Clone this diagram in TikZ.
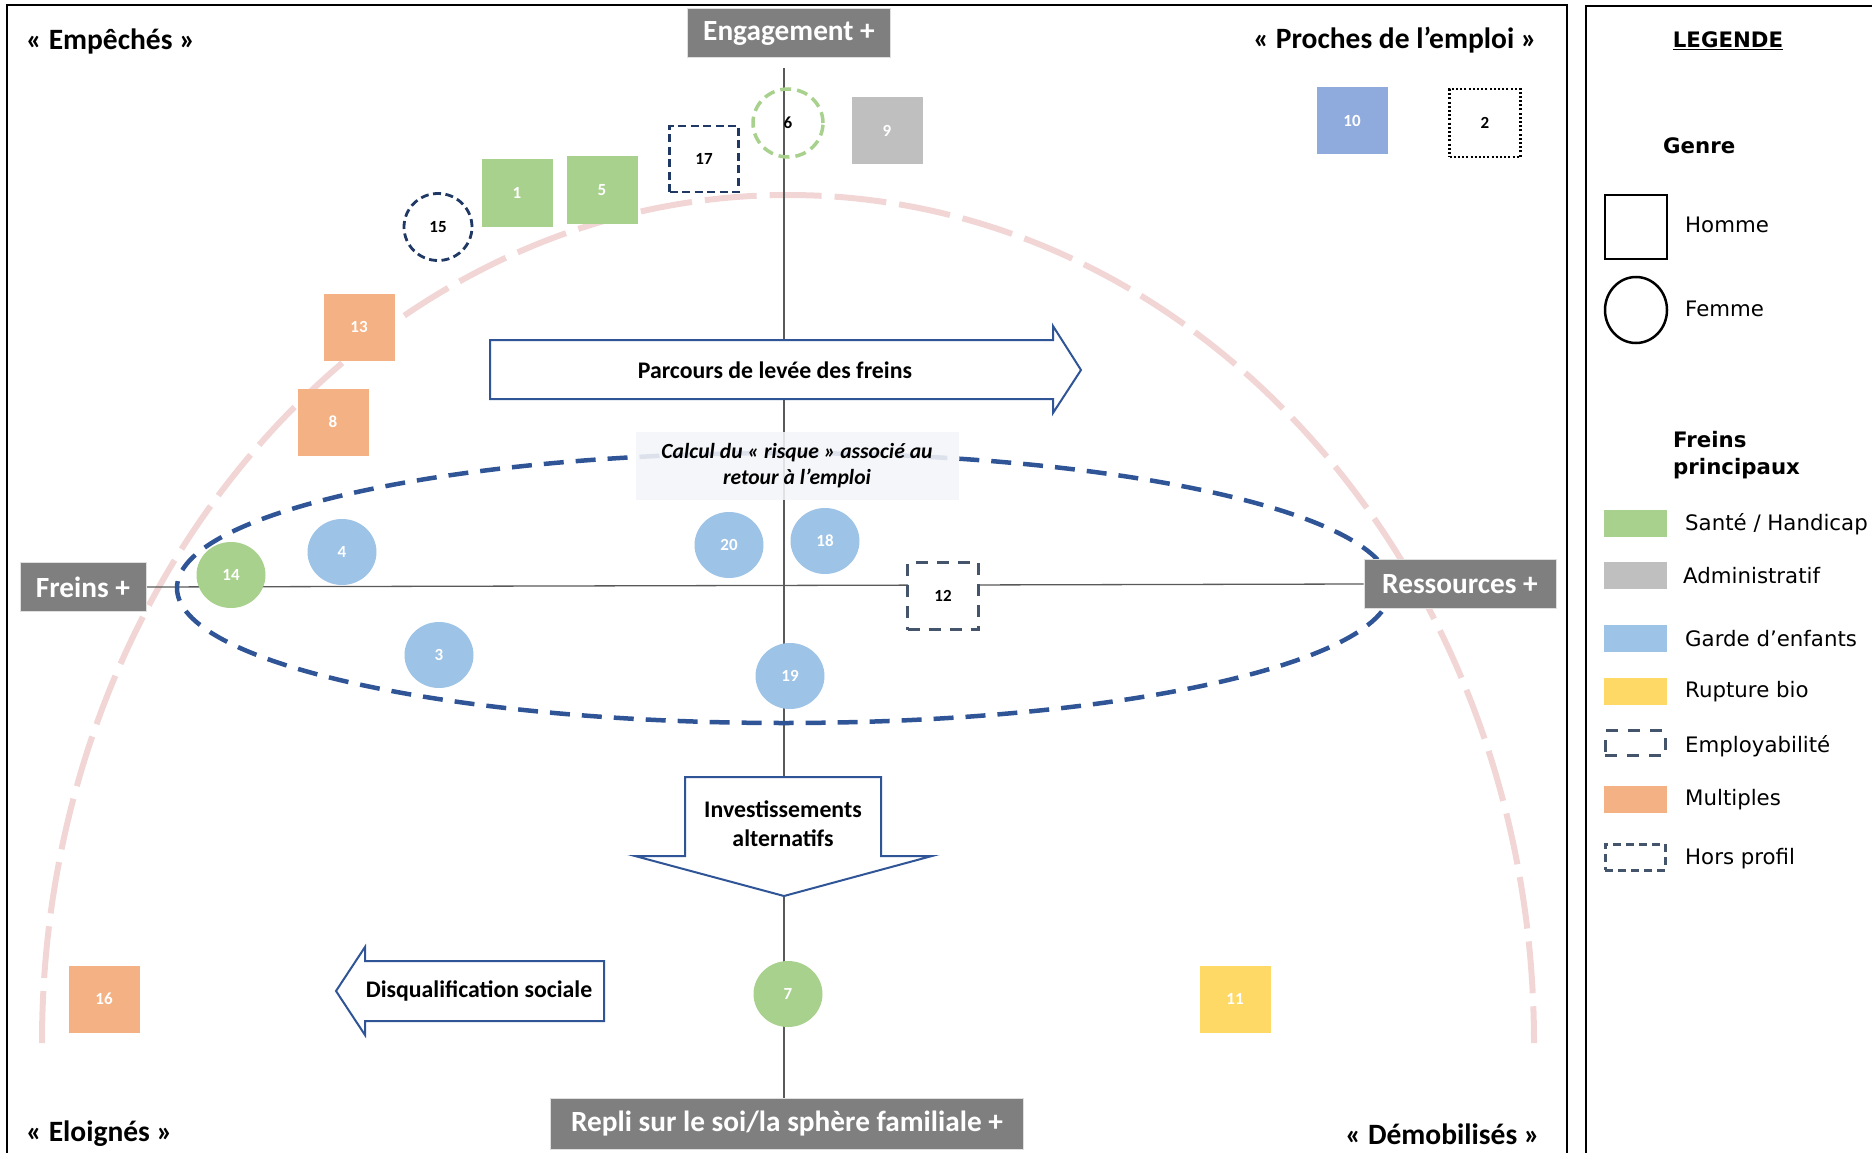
\documentclass[tikz,border=0pt]{standalone}
\usepackage{fontspec}
\setmainfont{Carlito}
\newfontfamily\legfont{DejaVu Sans}
\usetikzlibrary{shapes.geometric,positioning,backgrounds}

\definecolor{boxgray}{RGB}{127,127,127}
\definecolor{axisgray}{RGB}{89,89,89}
\definecolor{arcpink}{RGB}{242,214,214}
\definecolor{ellblue}{RGB}{47,85,151}
\definecolor{navy}{RGB}{31,56,100}
\definecolor{slate}{RGB}{68,84,106}
\definecolor{santeC}{RGB}{169,209,142}
\definecolor{adminC}{RGB}{191,191,191}
\definecolor{gardeC}{RGB}{157,195,230}
\definecolor{bleuC}{RGB}{143,170,220}
\definecolor{ruptC}{RGB}{255,217,102}
\definecolor{multiC}{RGB}{244,177,131}

\tikzset{
    axebox/.style={rectangle, fill=boxgray, draw=gray!25, line width=1pt, text=white,
        font=\fontsize{29.3}{33}\selectfont\bfseries, inner sep=0pt, minimum height=49pt},
    coin/.style={font=\fontsize{29.5}{33}\selectfont\bfseries, inner sep=0pt},
    sq/.style={rectangle, minimum width=71pt, minimum height=67pt, inner sep=0pt,
        text=white, font=\fontsize{17}{20}\selectfont\bfseries},
    rd/.style={ellipse, minimum width=69pt, minimum height=66pt, inner sep=0pt,
        text=white, font=\fontsize{17}{20}\selectfont\bfseries},
    sante/.style={fill=santeC},
    admin/.style={fill=adminC},
    garde/.style={fill=gardeC},
    bleu/.style={fill=bleuC},
    rupt/.style={fill=ruptC},
    multi/.style={fill=multiC},
    horsprof/.style={draw=navy, line width=2.8pt, dash pattern=on 8pt off 4.5pt, fill=white, text=black},
    employ/.style={draw=slate, line width=2.8pt, dash pattern=on 12pt off 9pt, fill=white, text=black},
    fleche/.style={draw=ellblue, line width=2pt, fill=white},
    flechetxt/.style={font=\fontsize{23.8}{29}\selectfont\bfseries, inner sep=0pt, align=center},
    legtxt/.style={font=\legfont\fontsize{21.3}{25}\selectfont, anchor=west, inner sep=0pt},
    legtitle/.style={font=\legfont\bfseries\fontsize{21.3}{27}\selectfont, inner sep=0pt},
    legsw/.style={rectangle, minimum width=63pt, minimum height=27pt, inner sep=0pt}
}

\begin{document}
\begin{tikzpicture}[x=1pt,y=-1pt]
    \useasboundingbox (0,0) rectangle (1872,1153);

    % Frames
    \begin{scope}
        \clip (0,0) rectangle (1872,1153);
        \draw[line width=2.5pt] (7,5) rectangle (1567,1180);
        \draw[line width=2.5pt] (1586,6) rectangle (1900,1180);
    \end{scope}

    % Axis boxes
    \node [axebox, minimum width=203pt] (engag) at (789,33) {Engagement +};
    \node [axebox, minimum width=126pt] (freins) at (83,587) {Freins +};
    \node [axebox, minimum width=192pt] (ress) at (1460,584) {Ressources +};
    \node [axebox, minimum width=473pt, minimum height=51pt] (repli) at (787,1124)
        {Repli sur le soi/la sphère familiale +};

    % Arc, axes and risk ellipse
    \coordinate (arcL) at (42,1043);
    \coordinate (vtop) at (784,68);
    \coordinate (ellc) at (784,588);
    \begin{scope}[on background layer]
        \draw[arcpink, line width=6pt, dash pattern=on 52pt off 13pt]
            (arcL) arc[start angle=180, end angle=0, x radius=746pt, y radius=848pt];
        \draw[axisgray, line width=1.3pt] (vtop) -- (vtop |- repli.north);
        \draw[axisgray, line width=1.3pt] (freins.east) -- (ress.west);
        \draw[ellblue, line width=4.5pt, dash pattern=on 20pt off 12pt]
            (ellc) ellipse [x radius=607pt, y radius=135pt];
    \end{scope}

    % Arrows
    \draw[fleche] (490,340) -- (1053,340) -- (1053,326) -- (1081,370) -- (1053,413)
        -- (1053,399) -- (490,399) -- cycle;
    \node [flechetxt] (parcours) at (775,370) {Parcours de levée des freins};
    \draw[fleche] (685,777) -- (881,777) -- (881,856) -- (932,856) -- (784,896)
        -- (635,856) -- (685,856) -- cycle;
    \node [flechetxt] (invest) at (783,824) {Investissements\\alternatifs};
    \draw[fleche] (604,961) -- (365,961) -- (365,947) -- (336,991) -- (365,1035)
        -- (365,1021) -- (604,1021) -- cycle;
    \node [flechetxt] (disqual) at (479,991) {Disqualification sociale};

    % Risk label
    \node [fill={rgb,255:red,244;green,245;blue,248}, fill opacity=0.88, text opacity=1,
        minimum width=323pt, minimum height=68pt, inner sep=0pt, align=center,
        font=\fontsize{21.6}{26}\selectfont\bfseries\itshape] (calcul) at (797,466)
        {Calcul du « risque » associé au\\retour à l’emploi};

    % Corner labels
    \node [coin, anchor=west] (empeches) at (26,41) {« Empêchés »};
    \node [coin, anchor=east] (proches) at (1537,40) {« Proches de l’emploi »};
    \node [coin, anchor=west] (eloignes) at (26,1134) {« Eloignés »};
    \node [coin, anchor=east] (demob) at (1540,1134) {« Démobilisés »};

    % People
    \node [sq, sante] (p1) at (517,193) {1};
    \node [sq, draw=black, line width=2.5pt, dash pattern=on 2pt off 2.2pt, text=black,
        minimum width=71pt, minimum height=68pt] (p2) at (1485,123) {2};
    \node [rd, garde] (p3) at (439,655) {3};
    \node [rd, garde] (p4) at (342,552) {4};
    \node [sq, sante] (p5) at (602,190) {5};
    \node [rd, draw=santeC, line width=3.5pt, dash pattern=on 11pt off 6pt, text=black,
        minimum width=70pt, minimum height=68pt] (p6) at (788,123) {6};
    \node [rd, sante] (p7) at (788,994) {7};
    \node [sq, multi] (p8) at (333,422) {8};
    \node [sq, admin] (p9) at (887,131) {9};
    \node [sq, bleu] (p10) at (1352,121) {10};
    \node [sq, rupt] (p11) at (1235,999) {11};
    \node [sq, employ] (p12) at (943,596) {12};
    \node [sq, multi] (p13) at (359,327) {13};
    \node [rd, sante] (p14) at (231,575) {14};
    \node [rd, horsprof, minimum width=68pt, minimum height=67pt] (p15) at (438,227) {15};
    \node [sq, multi] (p16) at (104,999) {16};
    \node [sq, horsprof, minimum width=69pt, minimum height=66pt] (p17) at (704,159) {17};
    \node [rd, garde] (p18) at (825,541) {18};
    \node [rd, garde] (p19) at (790,676) {19};
    \node [rd, garde] (p20) at (729,545) {20};

    % Legend
    \node [legtitle] (legende) at (1728,41) {\underline{LEGENDE}};
    \node [legtitle, anchor=west] (genre) at (1663,146) {Genre};
    \node [rectangle, draw, line width=2.5pt, minimum width=62pt, minimum height=64pt] (lhomme) at (1636,227) {};
    \node [legtxt] (thomme) at (1685,225) {Homme};
    \node [ellipse, draw, line width=2.5pt, minimum width=62pt, minimum height=66pt] (lfemme) at (1636,310) {};
    \node [legtxt] (tfemme) at (1685,309) {Femme};
    \node [legtitle, anchor=west, align=left] (freinsp) at (1673,455) {Freins\\principaux};

    \node [legsw, sante] (lsante) at (1635,523) {};
    \node [legtxt] (tsante) at (1685,524) {Santé / Handicap};
    \node [legsw, admin] (ladmin) at (1635,575) {};
    \node [legtxt] (tadmin) at (1683,576) {Administratif};
    \node [legsw, garde] (lgarde) at (1635,638) {};
    \node [legtxt] (tgarde) at (1685,639) {Garde d’enfants};
    \node [legsw, rupt] (lrupt) at (1635,691) {};
    \node [legtxt] (trupt) at (1685,692) {Rupture bio};
    \node [legsw, draw=slate, line width=3pt, dash pattern=on 12pt off 10pt, minimum width=60pt, minimum height=25pt] (lemploy) at (1635,743) {};
    \node [legtxt] (temploy) at (1685,746) {Employabilité};
    \node [legsw, multi] (lmulti) at (1635,799) {};
    \node [legtxt] (tmulti) at (1685,800) {Multiples};
    \node [legsw, draw=slate, line width=3pt, dash pattern=on 8pt off 5pt, minimum width=60pt, minimum height=26pt] (lhors) at (1635,857) {};
    \node [legtxt] (thors) at (1685,859) {Hors profil};
\end{tikzpicture}
\end{document}
